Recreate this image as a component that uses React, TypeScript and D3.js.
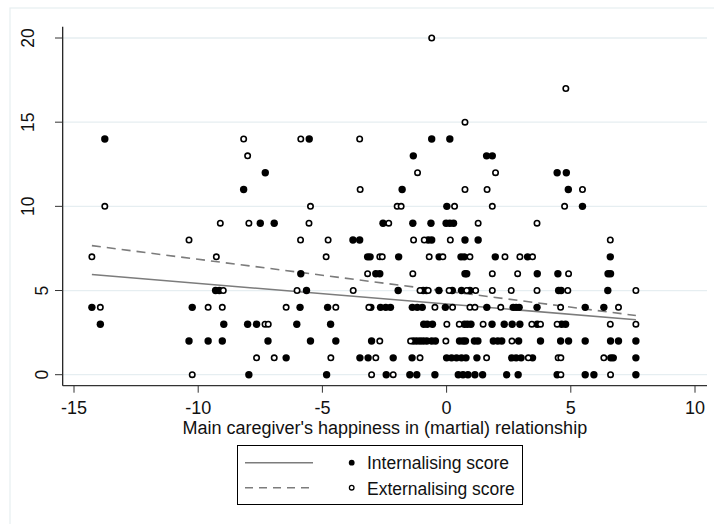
import React from "react";
import * as d3 from "d3";

// Scores (y) with the happiness values (x) of every child at that score
const internalisingRows: [number, number[]][] = [
  [0, [-7.96, -4.83, -2.43, -1.48, -1.2, -0.47, 0.47, 0.66, 0.86, 1.14, 1.45, 2.42, 2.88, 4.45, 5.58, 5.93, 7.62]],
  [1, [-6.46, -3.49, -3.16, -2.15, -1.39, 0.0, 0.2, 0.4, 0.6, 0.78, 1.22, 2.62, 2.8, 3.0, 3.46, 6.61, 6.71, 7.62]],
  [2, [-10.37, -9.6, -9.03, -7.19, -5.48, -4.46, -3.02, -1.34, -1.21, -1.07, -0.94, -0.8, -0.6, -0.45, 0.52, 0.66, 0.76, 1.12, 1.26, 1.88, 2.06, 2.22, 2.9, 3.78, 4.59, 4.91, 5.58, 6.6, 6.92, 7.62]],
  [3, [-13.94, -8.97, -8.01, -7.65, -6.03, -4.67, -0.92, -0.78, -0.57, 0.72, 0.84, 0.98, 1.83, 2.32, 2.64, 2.95, 3.65, 4.63, 4.79]],
  [4, [-14.28, -10.24, -5.9, -4.79, -3.05, -2.66, -2.45, -2.26, -1.38, -1.18, -0.98, -0.05, 1.62, 2.68, 2.8, 2.92, 3.64, 5.58, 6.33]],
  [5, [-9.3, -9.15, -5.64, -1.95, -0.94, -0.81, -0.31, 0.23, 0.6, 0.94, 4.51, 4.61, 6.49]],
  [6, [-5.87, -2.85, -2.69, 0.74, 0.81, 3.65, 4.48, 6.5, 6.6]],
  [7, [-3.18, -3.08, -1.93, -0.3, 0.58, 0.71, 1.96, 3.26, 6.59]],
  [8, [-3.77, -3.5, -0.74, -0.6, 0.74, 1.27]],
  [9, [-7.5, -6.94, -2.56, -1.36, -0.63, -0.02, 0.13, 0.28]],
  [10, [0.01, 5.47]],
  [11, [-8.17, -1.79, 4.9]],
  [12, [-7.3, 4.45, 4.82]],
  [13, [-1.34, 1.61, 1.84]],
  [14, [-13.76, -5.53, -0.6, 0.13]],
];

const externalisingRows: [number, number[]][] = [
  [0, [-10.24, -3.02, -2.15, 4.6, 6.6]],
  [1, [-7.65, -6.94, -4.66, -2.85, -1.07, 1.61, 3.29, 4.49, 4.6, 6.33]],
  [2, [-2.69, -1.45, -0.03, 2.63]],
  [3, [-7.31, -7.18, 0.01, 0.51, 1.47, 3.43, 3.78, 4.45, 6.59, 7.62]],
  [4, [-13.94, -9.6, -9.03, -6.46, -4.46, -3.13, -0.47, 0.24, 0.94, 1.14, 2.18, 4.59, 6.92]],
  [5, [-8.99, -6.02, -3.76, -1.07, -0.74, 0.1, 0.81, 1.17, 1.84, 2.6, 3.64, 4.88, 7.62]],
  [6, [-3.18, -1.36, 1.84, 2.86, 4.91]],
  [7, [-14.28, -9.27, -4.85, -2.69, -2.59, -0.7, -0.15, 0.94, 2.35, 2.95, 3.46]],
  [8, [-10.37, -5.88, -4.77, -1.33, -0.9, 0.15, 6.59]],
  [9, [-9.11, -7.96, -5.54, -2.33, 1.27, 3.64]],
  [10, [-13.76, -5.48, -1.99, -1.83, 0.32, 1.84, 4.75]],
  [11, [-3.48, 0.74, 1.63, 5.47]],
  [12, [-1.17, 1.97]],
  [13, [-8.01]],
  [14, [-8.17, -5.87, -3.5]],
  [15, [0.74]],
  [17, [4.8]],
  [20, [-0.6]],
];

// Linear fits: [intercept, slope] for internalising and externalising
const fitInternalising: [number, number] = [4.2, -0.1224];
const fitExternalising: [number, number] = [4.96, -0.1895];
const fitRange: [number, number] = [-14.28, 7.62];

const xTicks = [-15, -10, -5, 0, 5, 10];
const yTicks = [0, 5, 10, 15, 20];
const xTitle = "Main caregiver's happiness in (martial) relationship";
const legendLabels = ["Internalising score", "Externalising score"];

const W = 714;
const H = 524;
const FONT = "'Liberation Sans', Arial, Helvetica, sans-serif";

const flatten = (rows: [number, number[]][]) =>
  rows.flatMap(([y, xs]) => xs.map((x) => ({ x, y })));

export default function App() {
  const x = d3.scaleLinear().domain([-15, 10]).range([74, 695]);
  const y = d3.scaleLinear().domain([0, 20]).range([374.7, 38]);

  const plotLeft = 62.7;
  const plotRight = 707;
  const plotTop = 26.7;
  const plotBottom = 385.7;

  const internal = flatten(internalisingRows);
  const external = flatten(externalisingRows);

  const fitLine = (coef: [number, number]) =>
    d3.line<number>()
      .x((v) => x(v))
      .y((v) => y(coef[0] + coef[1] * v))(fitRange) || "";

  const lineColor = "#7c7c7c";
  const gridColor = "#e6eef1";

  return (
    <svg
      width={W}
      height={H}
      style={{ position: "absolute", left: 0, top: 0, display: "block", background: "#fff" }}
      fontFamily={FONT}
    >
      <rect x={10} y={8} width={730} height={540} fill="#fff" stroke={gridColor} strokeWidth={1.2} />

      {/* grid */}
      {yTicks.map((t) => (
        <line key={`g${t}`} x1={plotLeft} x2={plotRight} y1={y(t)} y2={y(t)} stroke={gridColor} strokeWidth={1.3} />
      ))}

      {/* axes */}
      <line x1={plotLeft} x2={plotLeft} y1={plotTop} y2={plotBottom} stroke="#111" strokeWidth={1.2} />
      <line x1={plotLeft} x2={plotRight} y1={plotBottom} y2={plotBottom} stroke="#333" strokeWidth={1.2} />

      {yTicks.map((t) => {
        const bx = String(t).length > 1 ? 33.5 : 48;
        return (
          <g key={`y${t}`}>
            <line x1={55} x2={plotLeft} y1={y(t)} y2={y(t)} stroke="#333" strokeWidth={1} />
            <text
              transform={`translate(${bx},${y(t)}) rotate(-90)`}
              textAnchor="middle"
              fontSize={17.5}
              fill="#111"
            >
              {t}
            </text>
          </g>
        );
      })}

      {xTicks.map((t) => (
        <g key={`x${t}`}>
          <line x1={x(t)} x2={x(t)} y1={plotBottom} y2={plotBottom + 7} stroke="#333" strokeWidth={1} />
          <text x={x(t)} y={414} textAnchor="middle" fontSize={18} fill="#111">
            {t}
          </text>
        </g>
      ))}

      <text x={(plotLeft + plotRight) / 2} y={433.5} textAnchor="middle" fontSize={18} fill="#111">
        {xTitle}
      </text>

      {/* fitted lines */}
      <path d={fitLine(fitInternalising)} fill="none" stroke={lineColor} strokeWidth={1.6} />
      <path d={fitLine(fitExternalising)} fill="none" stroke={lineColor} strokeWidth={1.6} strokeDasharray="9 6" />

      {/* points */}
      {internal.map((p, i) => (
        <circle key={`i${i}`} cx={x(p.x)} cy={y(p.y)} r={3.7} fill="#000" />
      ))}
      {external.map((p, i) => (
        <circle key={`e${i}`} cx={x(p.x)} cy={y(p.y)} r={2.7} fill="#fff" stroke="#000" strokeWidth={1.6} />
      ))}

      {/* legend */}
      <rect x={237.5} y={445.5} width={285} height={59} fill="#fff" stroke="#000" strokeWidth={1} />
      <line x1={245} x2={313} y1={462.7} y2={462.7} stroke={lineColor} strokeWidth={1.6} />
      <line x1={245} x2={313} y1={487.7} y2={487.7} stroke={lineColor} strokeWidth={1.6} strokeDasharray="8 6" />
      <circle cx={351.7} cy={462.7} r={2.9} fill="#000" />
      <circle cx={351.7} cy={487.7} r={2.3} fill="#fff" stroke="#000" strokeWidth={1.3} />
      <text x={367} y={469} fontSize={17.5} fill="#111">{legendLabels[0]}</text>
      <text x={367} y={494.5} fontSize={17.5} fill="#111">{legendLabels[1]}</text>
    </svg>
  );
}
